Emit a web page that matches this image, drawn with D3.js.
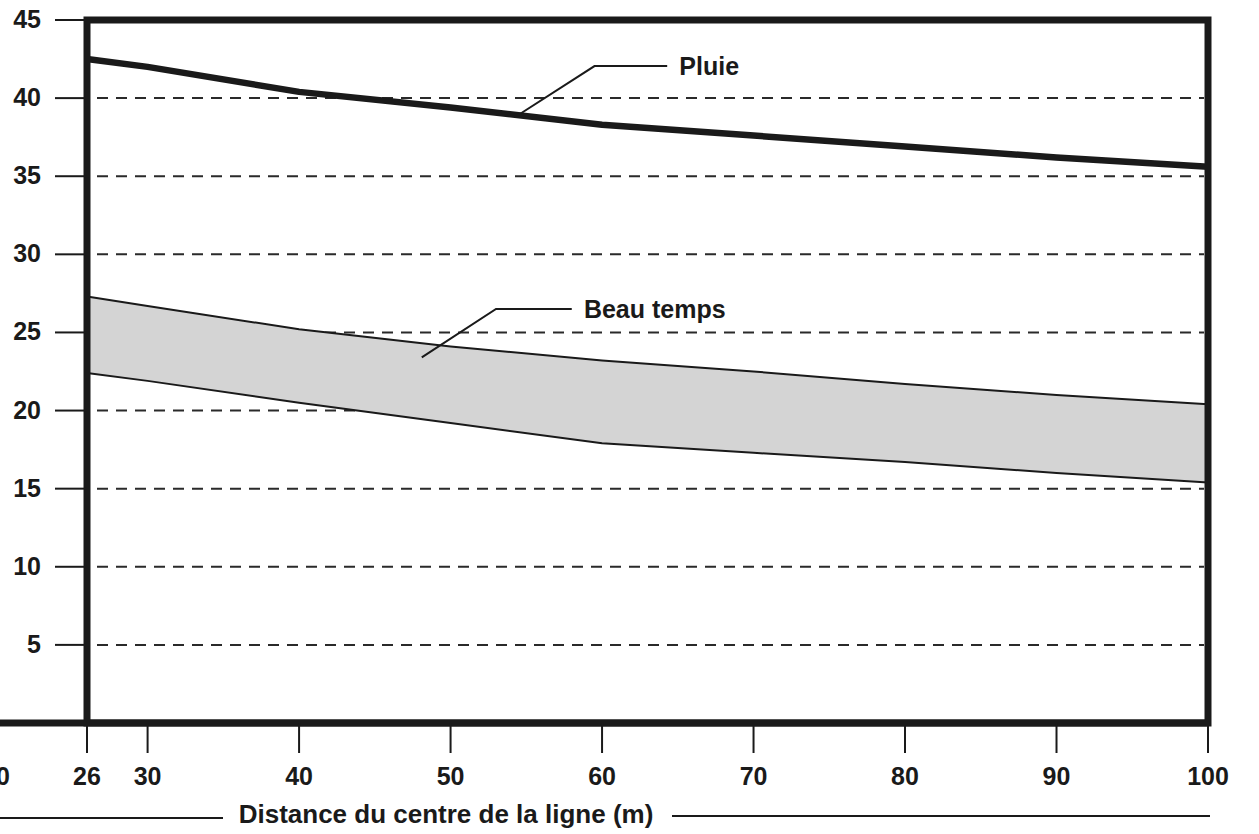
<!DOCTYPE html>
<html>
<head>
<meta charset="utf-8">
<script src="https://cdn.jsdelivr.net/npm/d3@7"></script>
<style>
  html, body { margin: 0; padding: 0; background: #fff; }
  svg { display: block; }
  text { font-family: "Liberation Sans", Arial, Helvetica, sans-serif; font-weight: bold; fill: #1a1a1a; }
</style>
</head>
<body>
<svg id="chart" width="1259" height="834"></svg>
<script>
// ---- data ----
const distances   = [26, 30, 40, 50, 60, 70, 80, 90, 100];
const pluie       = [42.5, 42.0, 40.4, 39.4, 38.3, 37.6, 36.9, 36.2, 35.6];
const beauHaut    = [27.3, 26.7, 25.2, 24.1, 23.2, 22.5, 21.7, 21.0, 20.4];
const beauBas     = [22.4, 21.9, 20.5, 19.2, 17.9, 17.3, 16.7, 16.0, 15.4];
const xTicks      = [20, 26, 30, 40, 50, 60, 70, 80, 90, 100];
const yTicks      = [5, 10, 15, 20, 25, 30, 35, 40, 45];
const gridValues  = [5, 10, 15, 20, 25, 30, 35, 40];
const xTitle      = "Distance du centre de la ligne (m)";
// annotation anchors in data units: [start, elbow, end], label
const pluieCallout = { pts: [[54.6, 39.0], [59.5, 42.05], [64.3, 42.05]], label: "Pluie", lx: 65.1 };
const beauCallout  = { pts: [[48.1, 23.4], [53.0, 26.5], [58.0, 26.5]], label: "Beau temps", lx: 58.8 };

// ---- scales ----
const x = d3.scaleLinear().domain([26, 100]).range([87, 1208]);
const y = d3.scaleLinear().domain([0, 45]).range([723, 20]);

const svg = d3.select("#chart");
const ink = "#1a1a1a";

// gridlines
svg.append("g").selectAll("line").data(gridValues).join("line")
  .attr("x1", x(26) + 10).attr("x2", x(100) - 4)
  .attr("y1", d => y(d)).attr("y2", d => y(d))
  .attr("stroke", "#2a2a2a").attr("stroke-width", 2)
  .attr("stroke-dasharray", "11,8");

// band (Beau temps)
const bandData = distances.map((d, i) => ({ d, hi: beauHaut[i], lo: beauBas[i] }));
svg.append("path").datum(bandData)
  .attr("d", d3.area().x(p => x(p.d)).y0(p => y(p.lo)).y1(p => y(p.hi)))
  .attr("fill", "#d4d4d4");
const lineGen = d3.line().x(p => x(p[0])).y(p => y(p[1]));
svg.append("path").datum(distances.map((d, i) => [d, beauHaut[i]]))
  .attr("d", lineGen).attr("fill", "none").attr("stroke", ink).attr("stroke-width", 2);
svg.append("path").datum(distances.map((d, i) => [d, beauBas[i]]))
  .attr("d", lineGen).attr("fill", "none").attr("stroke", ink).attr("stroke-width", 2);

// Pluie line
svg.append("path").datum(distances.map((d, i) => [d, pluie[i]]))
  .attr("d", lineGen).attr("fill", "none").attr("stroke", ink).attr("stroke-width", 6.5)
  .attr("stroke-linejoin", "round");

// frame
svg.append("rect")
  .attr("x", x(26)).attr("y", y(45))
  .attr("width", x(100) - x(26)).attr("height", y(0) - y(45))
  .attr("fill", "none").attr("stroke", ink).attr("stroke-width", 7);
// bottom axis extends to left edge
svg.append("line")
  .attr("x1", x(20)).attr("x2", x(100))
  .attr("y1", y(0)).attr("y2", y(0))
  .attr("stroke", ink).attr("stroke-width", 7);

// y ticks
svg.append("g").selectAll("line").data(yTicks).join("line")
  .attr("x1", x(26) - 32).attr("x2", x(26))
  .attr("y1", d => y(d)).attr("y2", d => y(d))
  .attr("stroke", ink).attr("stroke-width", 2);
svg.append("g").selectAll("text").data(yTicks).join("text")
  .attr("x", x(26) - 46).attr("y", d => y(d) + 8)
  .attr("text-anchor", "end").attr("font-size", 25)
  .text(d => d);

// x ticks
svg.append("g").selectAll("line").data(xTicks).join("line")
  .attr("x1", d => x(d)).attr("x2", d => x(d))
  .attr("y1", y(0)).attr("y2", y(0) + 30)
  .attr("stroke", ink).attr("stroke-width", 2);
svg.append("g").selectAll("text").data(xTicks).join("text")
  .attr("x", d => x(d)).attr("y", y(0) + 62)
  .attr("text-anchor", "middle").attr("font-size", 25)
  .text(d => d);

// x title with side rules
svg.append("text").attr("x", 446).attr("y", 823)
  .attr("text-anchor", "middle").attr("font-size", 26).text(xTitle);
svg.append("line").attr("x1", x(20)).attr("x2", 223).attr("y1", 818).attr("y2", 818)
  .attr("stroke", ink).attr("stroke-width", 1.8);
svg.append("line").attr("x1", 672).attr("x2", x(100) + 2).attr("y1", 816).attr("y2", 816)
  .attr("stroke", ink).attr("stroke-width", 1.8);

// callouts
[pluieCallout, beauCallout].forEach(c => {
  svg.append("path").datum(c.pts).attr("d", lineGen)
    .attr("fill", "none").attr("stroke", ink).attr("stroke-width", 2);
  svg.append("text").attr("x", x(c.lx)).attr("y", y(c.pts[2][1]) + 9)
    .attr("font-size", 25).text(c.label);
});
</script>
</body>
</html>
